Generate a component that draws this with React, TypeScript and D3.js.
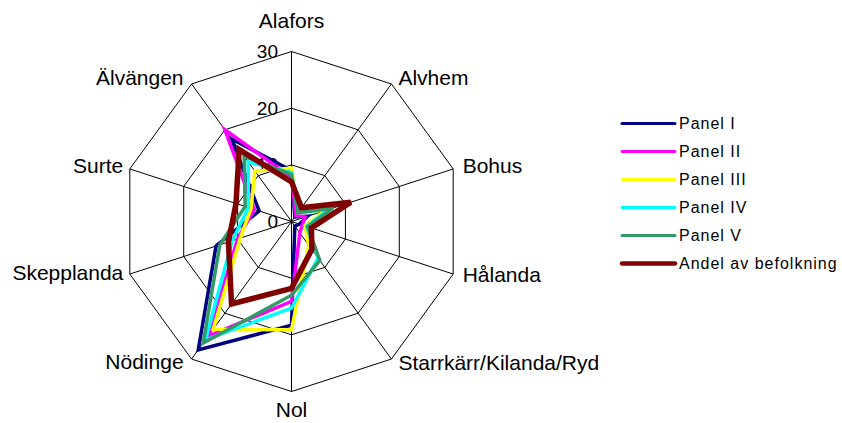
import React from "react";
import * as d3 from "d3";

const categories = [
  "Alafors",
  "Alvhem",
  "Bohus",
  "Hålanda",
  "Starrkärr/Kilanda/Ryd",
  "Nol",
  "Nödinge",
  "Skepplanda",
  "Surte",
  "Älvängen",
];

const ticks = [0, 10, 20, 30];

const seriesNames = ["Panel I", "Panel II", "Panel III", "Panel IV", "Panel V", "Andel av befolkning"];
const panel1 = [9.0, 1.0, 3.0, 1.5, 1.0, 18.3, 28.0, 14.0, 6.0, 18.0];
const panel2 = [7.8, 1.3, 2.5, 2.0, 2.5, 14.1, 25.0, 10.0, 6.9, 20.0];
const panel3 = [9.4, 2.0, 6.5, 2.5, 5.2, 19.1, 23.5, 9.5, 7.5, 11.0];
const panel4 = [8.6, 2.0, 6.8, 2.8, 8.0, 15.3, 25.8, 11.0, 8.0, 13.0];
const panel5 = [8.3, 1.9, 7.7, 3.0, 8.5, 13.0, 26.5, 13.3, 8.6, 14.2];
const andel = [7.0, 3.0, 11.0, 3.7, 6.1, 11.8, 18.0, 11.7, 10.3, 15.7];
const seriesValues = [panel1, panel2, panel3, panel4, panel5, andel];
const seriesColors = ["#000080", "#FF00FF", "#FFFF00", "#00FFFF", "#339966", "#800000"];
const seriesWidths = [3.5, 3.5, 3.5, 3.5, 3.5, 5.5];

const W = 842;
const H = 423;
const cx = 291.5;
const cy = 221.5;
const R = 170;

const r = d3.scaleLinear().domain([0, 30]).range([0, R]);
const angle = (i: number) => (i * 2 * Math.PI) / categories.length;

const pt = (i: number, v: number): [number, number] => [
  cx + r(v) * Math.sin(angle(i)),
  cy - r(v) * Math.cos(angle(i)),
];

const radial = d3
  .lineRadial<number>()
  .angle((_d, i) => angle(i))
  .radius((d) => r(d))
  .curve(d3.curveLinearClosed);

const labelAnchor = (i: number) => {
  const s = Math.sin(angle(i));
  if (Math.abs(s) < 0.01) return "middle";
  return s > 0 ? "start" : "end";
};
const labelOffset = (i: number): [number, number] => {
  const [x, y] = pt(i, 30);
  const offs: [number, number][] = [
    [0, -23.5],
    [7, 1],
    [9.5, 4.5],
    [9.5, 7.5],
    [7, 11],
    [0, 25],
    [-8, 9.5],
    [-6.5, 6],
    [-6.5, 4.5],
    [-8, 1],
  ];
  return [x + offs[i][0], y + offs[i][1]];
};

export default function App() {
  const gridPolys = ticks.filter((t) => t > 0).map((t) => categories.map((_c, i) => pt(i, t)));
  return (
    <svg
      width={W}
      height={H}
      style={{ position: "absolute", left: 0, top: 0, background: "#fff" }}
      fontFamily="'Liberation Sans', Arial, sans-serif"
    >
      <rect x={0} y={0} width={W} height={H} fill="#fff" />
      {categories.map((_c, i) => {
        const [x, y] = pt(i, 30);
        return <line key={"s" + i} x1={cx} y1={cy} x2={x} y2={y} stroke="#000" strokeWidth={1} />;
      })}
      {gridPolys.map((poly, k) => (
        <polygon
          key={"g" + k}
          points={poly.map((p) => p.join(",")).join(" ")}
          fill="none"
          stroke="#000"
          strokeWidth={1}
        />
      ))}
      {ticks.map((t) => (
        <text key={"t" + t} x={cx - 13.5} y={cy - r(t) + 6.5} textAnchor="end" fontSize={19} fill="#000">
          {t}
        </text>
      ))}
      <g transform={`translate(${cx},${cy})`}>
        {seriesValues.map((vals, k) => (
          <path
            key={"p" + k}
            d={radial(vals) || ""}
            fill="none"
            stroke={seriesColors[k]}
            strokeWidth={seriesWidths[k]}
            strokeLinejoin="miter"
          />
        ))}
      </g>
      {categories.map((c, i) => {
        const [x, y] = labelOffset(i);
        return (
          <text key={"c" + i} x={x} y={y} textAnchor={labelAnchor(i)} fontSize={21} fill="#000">
            {c}
          </text>
        );
      })}
      {seriesNames.map((n, k) => {
        const y = 123.5 + k * 28;
        return (
          <g key={"l" + k}>
            <line
              x1={622}
              x2={675}
              y1={y}
              y2={y}
              stroke={seriesColors[k]}
              strokeWidth={k === 5 ? 4.5 : 3}
              strokeLinecap="round"
            />
            <text x={679} y={y + 5.7} fontSize={16} letterSpacing={1} fill="#000">
              {n}
            </text>
          </g>
        );
      })}
    </svg>
  );
}
